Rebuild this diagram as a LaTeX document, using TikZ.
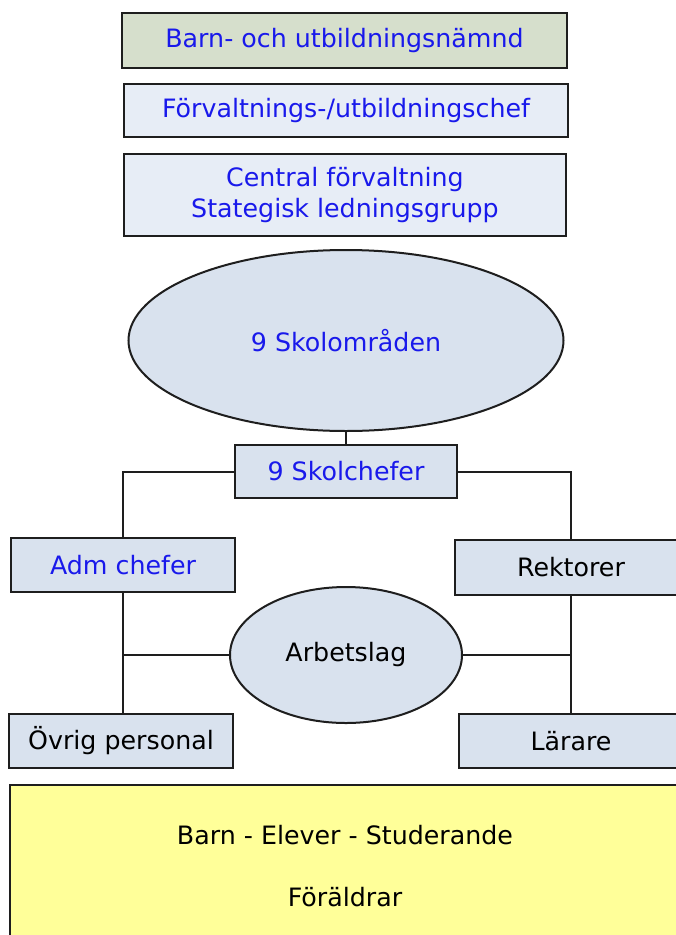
\documentclass[tikz,border=0pt]{standalone}
\usepackage{fontspec}
\setmainfont{DejaVu Sans}
\usetikzlibrary{shapes.geometric,calc}
\definecolor{txtblue}{RGB}{25,25,235}
\definecolor{boxgreen}{RGB}{214,223,204}
\definecolor{boxlight}{RGB}{231,237,246}
\definecolor{boxblue}{RGB}{217,226,238}
\definecolor{boxyellow}{RGB}{255,255,153}
\definecolor{edge}{RGB}{30,30,30}
\tikzset{
  base/.style={draw=edge, line width=2pt, font=\fontsize{25.3}{31}\selectfont, align=center, inner sep=0pt},
  rbox/.style={base, rectangle},
  ell/.style={base, ellipse, fill=boxblue},
  conn/.style={draw=edge, line width=2pt},
}
\begin{document}
\begin{tikzpicture}[x=1pt,y=-1pt]
\useasboundingbox (0,0) rectangle (676,935);
\clip (0,0) rectangle (676,935);
\fill[white] (0,0) rectangle (676,935);
% top boxes
\node[rbox, fill=boxgreen, text=txtblue, minimum width=445pt, minimum height=55pt] (bun) at (344.5,40.5) {Barn- och utbildningsnämnd};
\node[rbox, fill=boxlight, text=txtblue, minimum width=444pt, minimum height=53pt] (fuc) at (346,110.5) {Förvaltnings-/utbildningschef};
\node[rbox, fill=boxlight, text=txtblue, minimum width=442pt, minimum height=82pt] (cf) at (345,195) {Central förvaltning\\Stategisk ledningsgrupp};
% ellipse
\node[ell, text=txtblue, minimum width=435pt, minimum height=181pt] (so) at (346,340.5) {9 Skolområden};
% Skolchefer
\node[rbox, fill=boxblue, text=txtblue, minimum width=222pt, minimum height=53pt] (sc) at (346,471.5) {9 Skolchefer};
\node[rbox, fill=boxblue, text=txtblue, minimum width=224pt, minimum height=54pt] (adm) at (123,565) {Adm chefer};
\node[rbox, fill=boxblue, text=black, minimum width=232pt, minimum height=55pt] (rek) at (571,567.5) {Rektorer};
\node[ell, text=black, minimum width=232pt, minimum height=136pt] (arb) at (346,655) {Arbetslag};
\node[rbox, fill=boxblue, text=black, minimum width=224pt, minimum height=54pt] (ovr) at (121,741) {Övrig personal};
\node[rbox, fill=boxblue, text=black, minimum width=224pt, minimum height=54pt] (lar) at (571,741) {Lärare};
% yellow box
\node[rbox, fill=boxyellow, minimum width=690pt, minimum height=180pt] (yb) at (355,875) {};
\node[base, draw=none, text=black, font=\fontsize{25.3}{62}\selectfont] (ybt) at (345,866) {Barn - Elever - Studerande\\Föräldrar};
% connectors
\draw[conn] (so.south) -- (sc.north);
\draw[conn] (sc.west) -| (adm.north);
\draw[conn] (sc.east) -| (rek.north);
\draw[conn] (adm.south) -- (adm.south |- ovr.north);
\draw[conn] (rek.south) -- (lar.north);
\draw[conn] (arb.west) -- (arb.west -| adm.south);
\draw[conn] (arb.east) -- (arb.east -| rek.south);
\end{tikzpicture}
\end{document}
